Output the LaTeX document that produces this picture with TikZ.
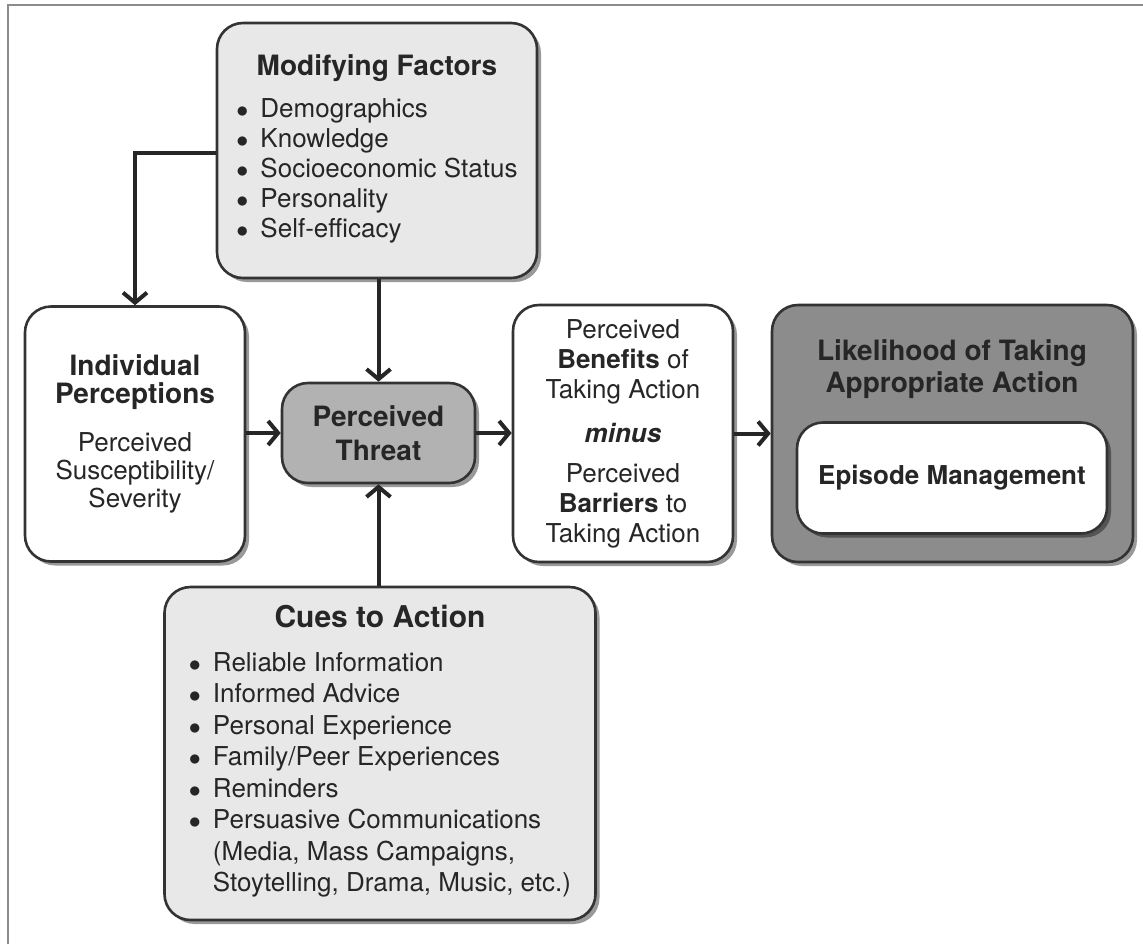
\documentclass[tikz,border=0pt]{standalone}
\usepackage{fontspec}
\setmainfont{TeX Gyre Heros}
\usetikzlibrary{arrows.meta,shadows}

\newcommand{\ttlfont}{\fontsize{14}{16}\selectfont\bfseries}
\newcommand{\hbmdot}{$\bullet$}

\begin{document}
\begin{tikzpicture}[x=0.5pt,y=-0.5pt,
  hbmbox/.style={draw=black!80, line width=1.3pt, rounded corners=13pt, align=center,
    text=black!85, inner sep=0pt,
    drop shadow={shadow xshift=2pt,shadow yshift=-2pt,opacity=0.4,fill=black}},
  lightbox/.style={hbmbox, fill=black!9},
  plainbox/.style={hbmbox, fill=white},
  arr/.style={line width=2pt, draw=black!85, -{Straight Barb[length=5pt,width=12pt]}}]
  \useasboundingbox (0,0) rectangle (1143,944);
  % frame
  \draw[black!45, line width=1pt] (8,944) -- (8,5) -- (1143,5);

  % modifying factors
  \node[lightbox, minimum width=160pt, minimum height=127.5pt,
    font=\fontsize{13}{15}\selectfont] (mf) at (377,150.5)
    {{\ttlfont Modifying Factors}\\[6pt]
     \begin{tabular}[t]{@{}l@{\hspace{6pt}}l@{}}
       \hbmdot & Demographics\\
       \hbmdot & Knowledge\\
       \hbmdot & Socioeconomic Status\\
       \hbmdot & Personality\\
       \hbmdot & Self-efficacy
     \end{tabular}};

  % individual perceptions
  \node[plainbox, minimum width=110pt, minimum height=127.5pt,
    font=\fontsize{13}{14}\selectfont] (ind) at (135,434)
    {{\ttlfont Individual}\\{\ttlfont Perceptions}\\[10pt]
     Perceived\\ Susceptibility/\\ Severity};

  % threat
  \node[hbmbox, fill=black!30, minimum width=96.5pt, minimum height=50pt,
    font=\fontsize{14}{17}\selectfont\bfseries] (threat) at (378.5,433)
    {Perceived\\ Threat};

  % benefits minus barriers
  \node[plainbox, minimum width=110pt, minimum height=128.5pt,
    font=\fontsize{13}{15}\selectfont] (ben) at (623,433.5)
    {Perceived\\ \textbf{Benefits} of\\ Taking Action\\[7pt]
     \textbf{\textit{minus}}\\[5pt]
     Perceived\\ \textbf{Barriers} to\\ Taking Action};

  % likelihood of action
  \node[hbmbox, fill=black!45, minimum width=180.5pt, minimum height=128.5pt] (lik) at (952.5,433.5) {};
  \node[font=\ttlfont, align=center, text=black!85] (likttl) at (952,369)
    {Likelihood of Taking\\ Appropriate Action};
  \node[plainbox, minimum width=155pt, minimum height=55.5pt,
    font=\fontsize{13}{15}\selectfont\bfseries] (epi) at (952,478) {Episode Management};

  % cues to action
  \node[lightbox, minimum width=215.5pt, minimum height=166.5pt,
    font=\fontsize{13}{15.75}\selectfont] (cues) at (380,753.5)
    {{\fontsize{15}{16}\selectfont\bfseries Cues to Action}\\[6pt]
     \begin{tabular}[t]{@{}l@{\hspace{6pt}}l@{}}
       \hbmdot & Reliable Information\\
       \hbmdot & Informed Advice\\
       \hbmdot & Personal Experience\\
       \hbmdot & Family/Peer Experiences\\
       \hbmdot & Reminders\\
       \hbmdot & Persuasive Communications\\
               & (Media, Mass Campaigns,\\
               & Stoytelling, Drama, Music, etc.)
     \end{tabular}};

  % connectors
  \draw[arr] (mf.west |- 0,153) -| (ind.north);
  \draw[arr] (mf.south -| threat.north) -- (threat.north);
  \draw[arr] (ind.east |- threat.west) -- (threat.west);
  \draw[arr] (threat.east) -- (threat.east -| ben.west);
  \draw[arr] (ben.east) -- (ben.east -| lik.west);
  \draw[arr] (cues.north -| threat.south) -- (threat.south);
\end{tikzpicture}
\end{document}
